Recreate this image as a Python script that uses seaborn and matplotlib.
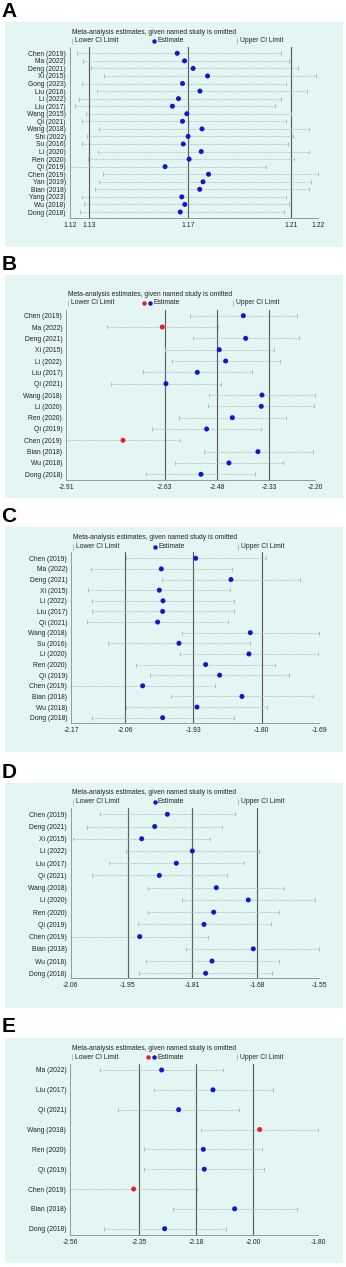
import numpy as np
import pandas as pd
import matplotlib
matplotlib.use("Agg")
import matplotlib.pyplot as plt
import seaborn as sns
from matplotlib.patches import Rectangle
from matplotlib.lines import Line2D

sns.set_style("white")
plt.rcParams["font.family"] = ["Liberation Sans", "DejaVu Sans"]

# ---------------- data ----------------
studies_A = ["Chen (2019)", "Ma (2022)", "Deng (2021)", "Xi (2015)", "Gong (2023)", "Liu (2016)",
             "Li (2022)", "Liu (2017)", "Wang (2015)", "Qi (2021)", "Wang (2018)", "Shi (2022)",
             "Su (2016)", "Li (2020)", "Ren (2020)", "Qi (2019)", "Chen (2019)", "Yan (2019)",
             "Bian (2018)", "Yang (2023)", "Wu (2018)", "Dong (2018)"]
lower_A = [1.1251, 1.1277, 1.1309, 1.1358, 1.1273, 1.1331, 1.1259, 1.1242, 1.1287, 1.1273, 1.1337,
           1.1291, 1.1273, 1.1336, 1.1297, 1.1224, 1.1356, 1.1340, 1.1321, 1.1273, 1.1281, 1.1264]
est_A = [1.1648, 1.1677, 1.1711, 1.1768, 1.1669, 1.1738, 1.1653, 1.1629, 1.1686, 1.1669, 1.1746,
         1.1691, 1.1672, 1.1743, 1.1695, 1.1600, 1.1772, 1.1750, 1.1737, 1.1666, 1.1678, 1.1660]
upper_A = [1.2060, 1.2091, 1.2127, 1.2197, 1.2080, 1.2163, 1.2060, 1.2035, 1.2100, 1.2080, 1.2171,
           1.2107, 1.2087, 1.2171, 1.2111, 1.2001, 1.2206, 1.2176, 1.2171, 1.2078, 1.2091, 1.2071]
overall_A = [1.1300, 1.1692, 1.2100]

studies_B = ["Chen (2019)", "Ma (2022)", "Deng (2021)", "Xi (2015)", "Li (2022)", "Liu (2017)",
             "Qi (2021)", "Wang (2018)", "Li (2020)", "Ren (2020)", "Qi (2019)", "Chen (2019)",
             "Bian (2018)", "Wu (2018)", "Dong (2018)"]
lower_B = [-2.5565, -2.7943, -2.5488, -2.6281, -2.6090, -2.6921, -2.7838, -2.5039, -2.5049, -2.5880,
           -2.6653, -2.9117, -2.5173, -2.5994, -2.6825]
est_B = [-2.4046, -2.6367, -2.3979, -2.4734, -2.4552, -2.5364, -2.6262, -2.3511, -2.3531, -2.4361,
         -2.5097, -2.7494, -2.3626, -2.4457, -2.5259]
upper_B = [-2.2518, -2.4782, -2.2461, -2.3177, -2.2996, -2.3788, -2.4677, -2.1983, -2.2012, -2.2833,
           -2.3531, -2.5861, -2.2060, -2.2900, -2.3702]
overall_B = [-2.6300, -2.4800, -2.3300]

studies_C = ["Chen (2019)", "Ma (2022)", "Deng (2021)", "Xi (2015)", "Li (2022)", "Liu (2017)",
             "Qi (2021)", "Wang (2018)", "Su (2016)", "Li (2020)", "Ren (2020)", "Qi (2019)",
             "Chen (2019)", "Bian (2018)", "Wu (2018)", "Dong (2018)"]
lower_C = [-2.0620, -2.1292, -1.9928, -2.1336, -2.1260, -2.1260, -2.1368, -1.9560, -2.0969, -1.9585,
           -2.0423, -2.0156, -2.1660, -1.9763, -2.0613, -2.1267]
est_C = [-1.9294, -1.9947, -1.8621, -1.9985, -1.9915, -1.9922, -2.0017, -1.8253, -1.9611, -1.8279,
         -1.9103, -1.8837, -2.0302, -1.8412, -1.9268, -1.9922]
upper_C = [-1.7961, -1.8596, -1.7314, -1.8634, -1.8558, -1.8571, -1.8672, -1.6940, -1.8253, -1.6966,
           -1.7784, -1.7511, -1.8919, -1.7067, -1.7930, -1.8571]
overall_C = [-2.0632, -1.9338, -1.8038]

studies_D = ["Chen (2019)", "Deng (2021)", "Xi (2015)", "Li (2022)", "Liu (2017)", "Qi (2021)",
             "Wang (2018)", "Li (2020)", "Ren (2020)", "Qi (2019)", "Chen (2019)", "Bian (2018)",
             "Wu (2018)", "Dong (2018)"]
lower_D = [-2.0023, -2.0289, -2.0575, -1.9505, -1.9839, -2.0194, -1.9041, -1.8345, -1.9041, -1.9259,
           -2.0630, -1.8263, -1.9096, -1.9225]
est_D = [-1.8652, -1.8911, -1.9177, -1.8141, -1.8468, -1.8816, -1.7650, -1.6995, -1.7704, -1.7902,
         -1.9218, -1.6893, -1.7738, -1.7868]
upper_D = [-1.7268, -1.7527, -1.7786, -1.6770, -1.7090, -1.7438, -1.6272, -1.5631, -1.6361, -1.6538,
           -1.7813, -1.5542, -1.6374, -1.6504]
overall_D = [-1.9457, -1.8141, -1.6818]

studies_E = ["Ma (2022)", "Liu (2017)", "Qi (2021)", "Wang (2018)", "Ren (2020)", "Qi (2019)",
             "Chen (2019)", "Bian (2018)", "Dong (2018)"]
lower_E = [-2.4698, -2.3066, -2.4157, -2.1618, -2.3362, -2.3352, -2.5616, -2.2464, -2.4596]
est_E = [-2.2821, -2.1250, -2.2301, -1.9822, -2.1546, -2.1516, -2.3678, -2.0587, -2.2729]
upper_E = [-2.0944, -1.9425, -2.0445, -1.8027, -1.9741, -1.9680, -2.1730, -1.8690, -2.0853]
overall_E = [-2.3515, -2.1760, -2.0016]

title_text = "Meta-analysis estimates, given named study is omitted"

# ---------------- style / layout ----------------
W, H = 346, 1267
BG = "#e4f6f4"
BLUE = "#1414d2"
RED = "#e3202b"
CI_COL = "#a9b3b3"
REF_COL = "#5e5e5e"
SPINE_COL = "#8a8a8a"
TXT = "#222222"

fig = plt.figure(figsize=(W / 100, H / 100), dpi=100)
fig.patch.set_facecolor("white")


def fx(x):
    return x / W


def fy(y):
    return 1 - y / H


# letter_base, box_top, box_bot, xl, xr, y_first, y_last, axis_y, title_y, leg_y
layout = {
    "A": (17, 22, 247, 70.0, 318.3, 53.3, 212.0, 218.3, 32.0, 41.0),
    "B": (270, 275, 498, 66.3, 315.3, 315.7, 474.3, 480.0, 294.3, 302.7),
    "C": (522, 527, 752, 71.3, 319.3, 558.3, 717.7, 723.3, 537.7, 546.7),
    "D": (778, 783, 1008, 70.7, 319.3, 814.3, 973.3, 978.3, 792.7, 801.7),
    "E": (1032, 1038, 1263, 70.3, 318.3, 1070.0, 1228.7, 1235.0, 1048.3, 1057.3),
}

panels = [
    ("A", studies_A, lower_A, est_A, upper_A, overall_A),
    ("B", studies_B, lower_B, est_B, upper_B, overall_B),
    ("C", studies_C, lower_C, est_C, upper_C, overall_C),
    ("D", studies_D, lower_D, est_D, upper_D, overall_D),
    ("E", studies_E, lower_E, est_E, upper_E, overall_E),
]

FS_LAB = 4.9
FS_TICK = 4.9

for letter, studies, lower, est, upper, overall in panels:
    (lb, box_top, box_bot, xl, xr, y_first, y_last, axis_y,
     title_y, leg_y) = layout[letter]

    # background box (behind axes)
    fig.patches.append(Rectangle((fx(5), fy(box_bot)), fx(343) - fx(5), fy(box_top) - fy(box_bot),
                                 transform=fig.transFigure, facecolor=BG, edgecolor="none",
                                 zorder=-5))
    fig.text(fx(1.5), fy(lb), letter, fontsize=15, fontweight="bold", va="baseline", ha="left",
             color="black")

    n = len(studies)
    sp = (y_last - y_first) / (n - 1)
    top_px = y_first - 6
    ax = fig.add_axes([fx(xl), fy(axis_y), fx(xr) - fx(xl), fy(top_px) - fy(axis_y)])
    ax.set_facecolor("none")
    ax.set_zorder(2)

    df = pd.DataFrame({"study": studies, "lower": lower, "est": est, "upper": upper})
    df["pos"] = np.arange(n)
    L, E, U = overall
    df["outside"] = (df["est"] < L) | (df["est"] > U)

    for v in overall:
        ax.axvline(v, color=REF_COL, lw=0.85, zorder=1)
    ax.hlines(df["pos"], df["lower"], df["upper"], colors=CI_COL, lw=0.5,
              linestyles=(0, (1.6, 1.0)), zorder=2)
    ax.scatter(df["lower"], df["pos"], marker="|", s=9, c=CI_COL, linewidths=0.6, zorder=2)
    ax.scatter(df["upper"], df["pos"], marker="|", s=9, c=CI_COL, linewidths=0.6, zorder=2)
    sns.scatterplot(data=df, x="est", y="pos", hue="outside", palette={False: BLUE, True: RED},
                    s=13, linewidth=0, legend=False, ax=ax, zorder=3)

    xmin, xmax = df["lower"].min(), df["upper"].max()
    ax.set_xlim(xmin, xmax)
    ax.set_ylim((n - 1) + (axis_y - y_last) / sp, -6 / sp)
    ticks = [xmin, L, E, U, xmax]
    ax.set_xticks(ticks)
    ax.set_xticklabels([f"{t:.2f}" for t in ticks])
    ax.set_yticks(df["pos"])
    ax.set_yticklabels(studies)
    ax.set_xlabel("")
    ax.set_ylabel("")
    ax.tick_params(axis="y", length=0, pad=3, labelsize=FS_LAB, labelcolor=TXT)
    ax.tick_params(axis="x", length=1.8, width=0.5, color=SPINE_COL, pad=1.2, labelsize=FS_TICK,
                   labelcolor=TXT, direction="out")
    for s in ["top", "right"]:
        ax.spines[s].set_visible(False)
    for s in ["left", "bottom"]:
        ax.spines[s].set_color(SPINE_COL)
        ax.spines[s].set_linewidth(0.6)

    # title and legend
    fig.text(fx(xl + 1.5), fy(title_y), title_text, fontsize=FS_LAB, color=TXT, va="center", ha="left")
    fig.add_artist(Line2D([fx(xl + 2)], [fy(leg_y)], marker="|", markersize=4.5, mew=0.6,
                          color=CI_COL, transform=fig.transFigure, linestyle="none"))
    fig.text(fx(xl + 5), fy(leg_y), "Lower CI Limit", fontsize=FS_LAB, color=TXT, va="center", ha="left")
    dot_x = xl + 84
    if df["outside"].any():
        fig.add_artist(Line2D([fx(dot_x - 6)], [fy(leg_y)], marker="o", markersize=3.2, mew=0,
                              color=RED, transform=fig.transFigure, linestyle="none"))
    fig.add_artist(Line2D([fx(dot_x)], [fy(leg_y)], marker="o", markersize=3.2, mew=0,
                          color=BLUE, transform=fig.transFigure, linestyle="none"))
    fig.text(fx(dot_x + 3), fy(leg_y), "Estimate", fontsize=FS_LAB, color=TXT, va="center", ha="left")
    fig.add_artist(Line2D([fx(xl + 167)], [fy(leg_y)], marker="|", markersize=4.5, mew=0.6,
                          color=CI_COL, transform=fig.transFigure, linestyle="none"))
    fig.text(fx(xl + 170), fy(leg_y), "Upper CI Limit", fontsize=FS_LAB, color=TXT, va="center",
             ha="left")

fig.savefig("out.png", dpi=100, facecolor="white")
